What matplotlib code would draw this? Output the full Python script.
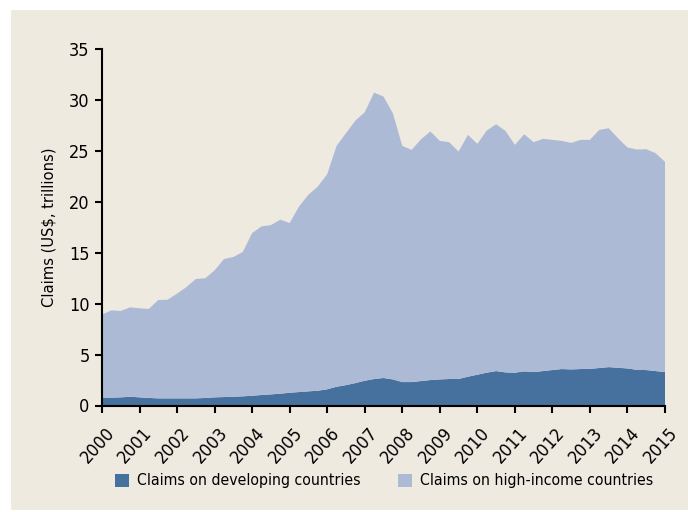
import numpy as np
import matplotlib.pyplot as plt
from matplotlib.patches import Rectangle
from matplotlib.transforms import ScaledTranslation

# quarterly observations, 2000Q1 .. 2015Q1 (US$ trillions)
developing = [
    0.77, 0.77, 0.80, 0.86,
    0.80, 0.74, 0.70, 0.70,
    0.70, 0.70, 0.70, 0.74,
    0.80, 0.83, 0.86, 0.90,
    0.96, 1.03, 1.09, 1.16,
    1.25, 1.32, 1.39, 1.45,
    1.59, 1.84, 2.00, 2.20,
    2.43, 2.60, 2.70, 2.56,
    2.30, 2.30, 2.40, 2.50,
    2.56, 2.60, 2.60, 2.83,
    3.02, 3.22, 3.38, 3.25,
    3.22, 3.35, 3.28, 3.38,
    3.48, 3.58, 3.54, 3.58,
    3.60, 3.68, 3.77, 3.70,
    3.64, 3.50, 3.48, 3.38,
    3.28,
]
high_income = [
    8.15, 8.57, 8.48, 8.78,
    8.74, 8.74, 9.66, 9.69,
    10.28, 10.93, 11.72, 11.75,
    12.47, 13.55, 13.72, 14.17,
    15.97, 16.55, 16.62, 17.08,
    16.66, 18.22, 19.30, 20.05,
    21.12, 23.65, 24.73, 25.77,
    26.36, 28.12, 27.63, 26.13,
    23.19, 22.80, 23.74, 24.40,
    23.42, 23.25, 22.33, 23.74,
    22.67, 23.77, 24.23, 23.71,
    22.37, 23.28, 22.57, 22.80,
    22.60, 22.40, 22.24, 22.50,
    22.48, 23.38, 23.45, 22.54,
    21.69, 21.63, 21.68, 21.39,
    20.64,
]
years = list(range(2000, 2016))
series_names = ["Claims on developing countries", "Claims on high-income countries"]

DARK = "#46709d"
LIGHT = "#adbad5"
BG = "#eeeae0"

plt.rcParams["font.family"] = ["DejaVu Sans"]
plt.rcParams["font.stretch"] = "condensed"

fig = plt.figure(figsize=(6.88, 5.12), dpi=100)
fig.patch.set_facecolor("white")
fig.patches.append(Rectangle((11 / 688, 0.004), 1, 1 - 10 / 512 - 0.004,
                             transform=fig.transFigure, facecolor=BG,
                             edgecolor="none", zorder=-10))

ax = fig.add_axes([102 / 688, 1 - 405.5 / 512, 563 / 688, 356.5 / 512])
ax.set_facecolor("none")

t = 2000 + np.arange(len(developing)) * 0.25
ax.stackplot(t, developing, high_income, colors=[DARK, LIGHT],
             labels=series_names, linewidth=0)

ax.set_xlim(2000, 2015)
ax.set_ylim(0, 35)
ax.set_yticks(range(0, 36, 5))
ax.set_xticks(years)
ax.set_xticklabels([str(y) for y in years], rotation=48, ha="right",
                   rotation_mode="anchor")
ax.tick_params(labelsize=13, length=5, width=1.5, direction="out", pad=4)
# nudge rotated year labels so they sit under the ticks like the original
shift = ScaledTranslation(3 / 100, -6 / 100, fig.dpi_scale_trans)
for lbl in ax.get_xticklabels():
    lbl.set_transform(lbl.get_transform() + shift)
for s in ["top", "right"]:
    ax.spines[s].set_visible(False)
for s in ["left", "bottom"]:
    ax.spines[s].set_linewidth(1.5)
ax.spines["bottom"].set_zorder(5)
ax.set_ylabel("Claims (US$, trillions)", fontsize=11.8, labelpad=9)

fig.legend(loc="center", bbox_to_anchor=(384 / 688, 1 - 481 / 512), ncol=2,
           frameon=False, fontsize=11.3, handlelength=0.9, handleheight=0.9,
           columnspacing=2.4, handletextpad=0.5)

fig.savefig("out.png", dpi=100)
